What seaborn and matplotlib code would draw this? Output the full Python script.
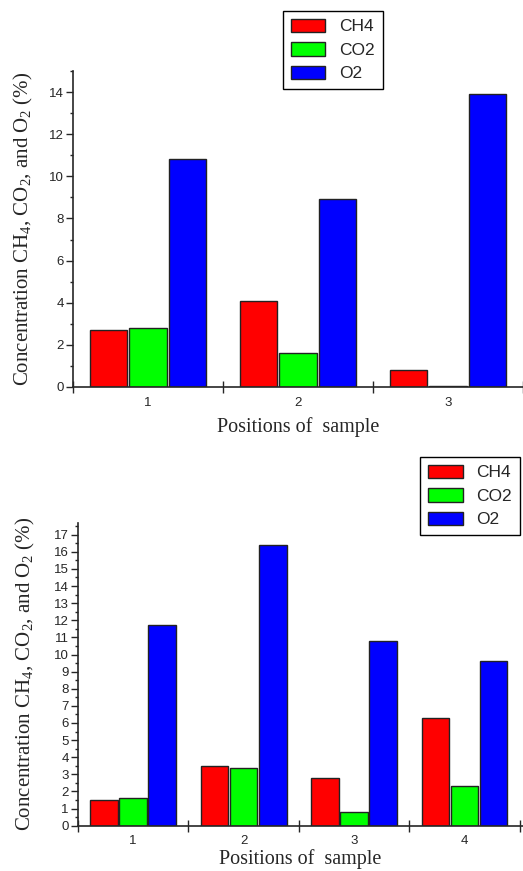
import pandas as pd
import matplotlib.pyplot as plt
import seaborn as sns
from matplotlib.ticker import MultipleLocator

# data
gases = ['CH4', 'CO2', 'O2']
colors = ['#FF0000', '#00FF00', '#0000FF']

pos_top = ['1', '2', '3']
ch4_top = [2.7, 4.1, 0.8]
co2_top = [2.8, 1.6, 0.05]
o2_top = [10.8, 8.9, 13.9]

pos_bot = ['1', '2', '3', '4']
ch4_bot = [1.5, 3.5, 2.8, 6.3]
co2_bot = [1.6, 3.4, 0.8, 2.3]
o2_bot = [11.7, 16.4, 10.8, 9.6]

sns.set_style('ticks')
plt.rcParams['font.family'] = ['Liberation Sans', 'DejaVu Sans']
plt.rcParams['mathtext.fontset'] = 'custom'
plt.rcParams['mathtext.rm'] = 'Liberation Serif'
plt.rcParams['mathtext.it'] = 'Liberation Serif:italic'


def long_df(positions, ch4, co2, o2):
    rows = []
    for g, vals in zip(gases, [ch4, co2, o2]):
        for p, v in zip(positions, vals):
            rows.append({'pos': p, 'gas': g, 'value': v})
    return pd.DataFrame(rows)


def draw_panel(ax, df, n, xmax, ymax, major, minor, leg_anchor, ylab_x, xpad):
    sns.barplot(data=df, x='pos', y='value', hue='gas', hue_order=gases,
                palette=colors, saturation=1, edgecolor='#222222', linewidth=1.0,
                width=0.79, gap=0.05, ax=ax, errorbar=None)
    ax.set_xlim(-0.5, xmax)
    ax.set_ylim(0, ymax)
    sns.despine(ax=ax)
    ax.yaxis.set_major_locator(MultipleLocator(major))
    ax.yaxis.set_minor_locator(MultipleLocator(minor))
    ax.tick_params(axis='y', which='major', length=5, width=1, labelsize=9.5, pad=1.5)
    ax.tick_params(axis='y', which='minor', length=2.5, width=1)
    # group boundaries as crossing ticks, labels at group centres
    ax.set_xticks([i - 0.5 for i in range(n + 1)], minor=True)
    ax.tick_params(axis='x', which='minor', direction='inout', length=9, width=1)
    ax.tick_params(axis='x', which='major', length=0, labelsize=9.5, pad=7)
    for s in ['left', 'bottom']:
        ax.spines[s].set_linewidth(1.2)
    ax.set_xlabel('Positions of  sample', family='Liberation Serif', fontsize=14.5, labelpad=xpad)
    ax.set_ylabel(r'Concentration CH$_\mathrm{4}$, CO$_\mathrm{2}$, and O$_\mathrm{2}$ (%)',
                  family='Liberation Serif', fontsize=15)
    ax.yaxis.set_label_coords(ylab_x, 0.5)
    handles, labels = ax.get_legend_handles_labels()
    ax.legend(handles, labels, loc='upper left', bbox_to_anchor=leg_anchor,
              bbox_transform=ax.figure.transFigure, borderaxespad=0, fancybox=False,
              edgecolor='black', framealpha=1, fontsize=12.5,
              handlelength=2.0, handleheight=0.8, labelspacing=0.45,
              borderpad=0.45, handletextpad=0.8)
    ax.get_legend().get_frame().set_linewidth(1.0)


fig = plt.figure(figsize=(5.23, 8.71), dpi=100)
ax1 = fig.add_axes([0.1396, 0.5557, 0.8604, 0.3628])
ax2 = fig.add_axes([0.1491, 0.0520, 0.8509, 0.3479])

draw_panel(ax1, long_df(pos_top, ch4_top, co2_top, o2_top), 3, 2.42, 15, 2, 1,
           (0.541, 0.9874), -0.085, 6)
draw_panel(ax2, long_df(pos_bot, ch4_bot, co2_bot, o2_bot), 4, 3.53, 17.7, 1, 0.5,
           (0.803, 0.4753), -0.092, 1)

fig.savefig('out.png', dpi=100)
